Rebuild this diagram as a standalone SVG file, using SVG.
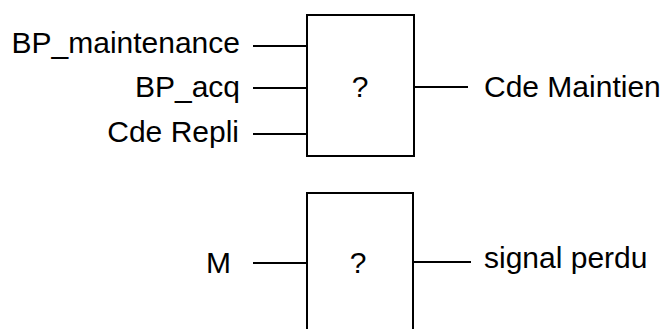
<svg xmlns="http://www.w3.org/2000/svg" width="665" height="329" viewBox="0 0 665 329">
<style>
text{font-family:"Liberation Sans",Arial,sans-serif;font-size:30px;fill:#000}
.l{text-anchor:end}
.m{text-anchor:middle}
.b{fill:#fff;stroke:#000;stroke-width:2}
.c line{stroke:#000;stroke-width:2}
</style>
<rect width="665" height="329" fill="#fff"/>
<g id="node-top">
<rect class="b" x="307" y="15" width="107" height="141"/>
<text class="m" x="360" y="97">?</text>
</g>
<g id="node-bottom">
<path class="b" d="M307,335 V193 H413 V335"/>
<text class="m" x="358" y="273">?</text>
</g>
<g id="labels">
<text class="l" x="240" y="53">BP_maintenance</text>
<text class="l" x="240" y="97">BP_acq</text>
<text class="l" x="239" y="142">Cde Repli</text>
<text x="484" y="97">Cde Maintien</text>
<text class="l" x="231" y="273">M</text>
<text x="484" y="268">signal perdu</text>
</g>
<g id="connectors" class="c">
<line x1="253" y1="46" x2="307" y2="46"/>
<line x1="253" y1="88" x2="307" y2="88"/>
<line x1="253" y1="134" x2="307" y2="134"/>
<line x1="414" y1="87" x2="468" y2="87"/>
<line x1="253" y1="263" x2="307" y2="263"/>
<line x1="413" y1="262" x2="471" y2="262"/>
</g>
</svg>
